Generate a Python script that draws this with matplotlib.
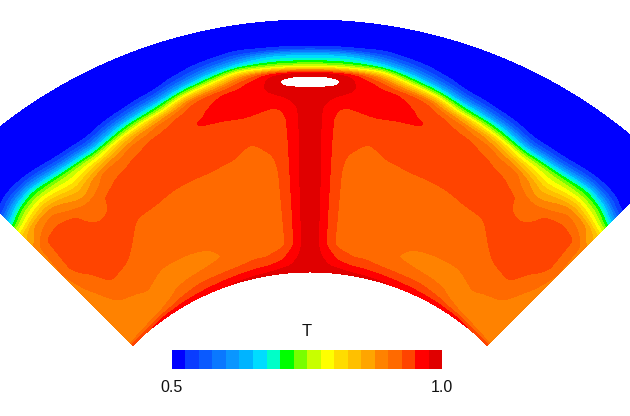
import numpy as np
import matplotlib
matplotlib.use("Agg")
import matplotlib.pyplot as plt
from matplotlib.colors import ListedColormap, BoundaryNorm

plt.rcParams['font.family'] = ['Liberation Sans', 'DejaVu Sans']

# Temperature, half sector (it is mirrored about the axis)
radii = [251, 254, 258, 265, 280, 310, 350, 385, 405, 415, 425, 432, 438, 444, 450, 456, 462, 468, 475, 485, 503]
angles = [0, 1.5, 3, 4.5, 6, 9, 12, 16, 20, 25, 30, 35, 40, 43, 45]

T_half = [
    [.990, .988, .985, .985, .985, .985, .985, .985, .985, .985, .985, .992, 1.006, 1.016, .985, .780, .700, .650, .530, .500, .500],
    [.990, .988, .985, .982, .982, .982, .982, .980, .980, .980, .985, .990, 1.006, 1.014, .985, .780, .700, .650, .530, .500, .500],
    [.985, .982, .980, .975, .955, .955, .955, .955, .955, .960, .975, .985, 1.004, 1.010, .980, .780, .700, .650, .530, .500, .500],
    [.985, .980, .975, .965, .930, .928, .928, .928, .932, .945, .965, .980, .996, .996, .970, .780, .700, .650, .530, .500, .500],
    [.985, .980, .972, .945, .915, .918, .918, .930, .938, .950, .962, .970, .972, .968, .955, .780, .695, .640, .530, .500, .500],
    [.985, .975, .960, .930, .912, .912, .912, .925, .945, .955, .958, .957, .955, .945, .890, .790, .680, .600, .535, .500, .500],
    [.985, .970, .955, .930, .912, .912, .915, .932, .945, .953, .956, .955, .948, .885, .800, .715, .630, .565, .520, .500, .500],
    [.980, .965, .950, .925, .905, .910, .918, .935, .948, .951, .945, .935, .905, .810, .715, .620, .560, .525, .505, .500, .500],
    [.975, .960, .945, .922, .896, .908, .920, .935, .942, .935, .915, .860, .760, .690, .600, .545, .510, .500, .500, .500, .500],
    [.975, .955, .940, .920, .885, .915, .924, .932, .928, .915, .855, .760, .690, .600, .545, .510, .500, .500, .500, .500, .500],
    [.970, .950, .930, .905, .885, .915, .925, .935, .915, .850, .750, .655, .575, .530, .505, .500, .500, .500, .500, .500, .500],
    [.965, .940, .905, .882, .898, .922, .936, .912, .840, .790, .740, .655, .575, .530, .505, .500, .500, .500, .500, .500, .500],
    [.955, .915, .885, .880, .885, .924, .940, .938, .895, .830, .750, .700, .620, .555, .520, .505, .500, .500, .500, .500, .500],
    [.950, .900, .880, .878, .880, .895, .935, .930, .875, .790, .725, .655, .585, .540, .515, .500, .500, .500, .500, .500, .500],
    [.940, .890, .880, .878, .878, .882, .893, .885, .830, .750, .650, .575, .530, .510, .500, .500, .500, .500, .500, .500, .500],
]

levels = np.linspace(0.5, 1.0, 21)
band_colors = ['#0000ff', '#0a3cff', '#0a5aff', '#0a78ff', '#0a96ff', '#00b4ff', '#00dcff', '#00ffc8',
               '#00ff00', '#78ff00', '#c8ff00', '#ffff00', '#ffdc00', '#ffc000', '#ffa500', '#ff8200',
               '#ff6a00', '#ff4400', '#ff0000', '#e00000']
tick_values = [0.5, 1.0]
tick_labels = ['0.5', '1.0']

# mirror the half table to get the whole sector
half = np.array(T_half)
T = np.vstack([half[:0:-1], half])
theta = np.array([-a for a in angles[:0:-1]] + angles)
r = np.array(radii, dtype=float)


def blur(field, sigma, axis):
    # gaussian along one axis, edges padded so the sector rim keeps its value
    n = int(3 * sigma) + 1
    k = np.exp(-0.5 * (np.arange(-n, n + 1) / sigma) ** 2)
    k /= k.sum()
    pad = [(0, 0), (0, 0)]
    pad[axis] = (n, n)
    padded = np.pad(field, pad, mode='edge')
    return np.apply_along_axis(lambda v: np.convolve(v, k, mode='valid'), axis, padded)


# resample the table on a fine polar mesh and soften the kinks
fine_th = np.linspace(-45, 45, 721)
fine_r = np.linspace(251, 503, 505)
by_r = np.array([np.interp(fine_r, r, row) for row in T])
fine_T = np.array([np.interp(fine_th, theta, col) for col in by_r.T]).T
fine_T = blur(fine_T, 6.0, 0)   # 0.75 deg
fine_T = blur(fine_T, 3.0, 1)   # 1.5 px
fine_T = np.maximum(fine_T, 0.501)

th_m, r_m = np.meshgrid(np.radians(fine_th), fine_r, indexing='ij')
x = r_m * np.sin(th_m)
y = r_m * np.cos(th_m)

cmap = ListedColormap(band_colors)
norm = BoundaryNorm(levels, cmap.N)

fig = plt.figure(figsize=(6.30, 4.16), dpi=100)
ax = fig.add_axes([0, 0, 1, 1])
cs = ax.contourf(x, y, fine_T, levels=levels, cmap=cmap, norm=norm)
ax.set_xlim(-310, 320)
ax.set_ylim(107, 523)
ax.axis('off')

# colour bar under the sector
cax = fig.add_axes([172 / 630, 1 - 369 / 416, 270 / 630, 19 / 416])
cb = fig.colorbar(cs, cax=cax, orientation='horizontal', ticks=tick_values)
cb.ax.set_xticklabels(tick_labels, fontsize=11.5, color='#111111')
cb.ax.minorticks_off()
cb.ax.tick_params(which='both', length=0, pad=8)
cb.outline.set_visible(False)
fig.text(307 / 630, 1 - 331 / 416, 'T', fontsize=12, ha='center', va='center', color='#111111')

fig.savefig('out.png', dpi=100)
